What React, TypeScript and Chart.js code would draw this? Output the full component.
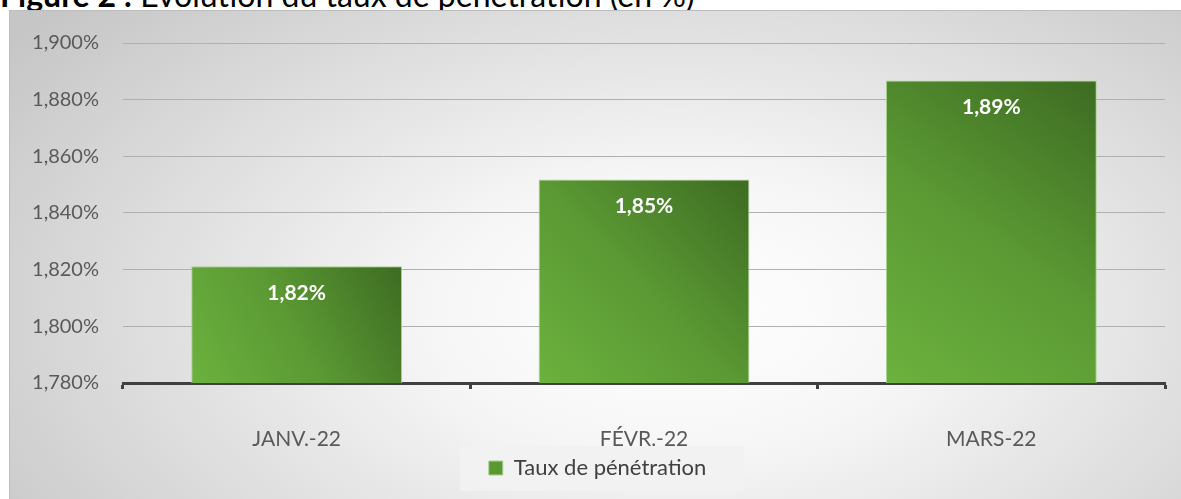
import React, { useEffect, useRef } from "react";
import { Chart, registerables } from "chart.js";

Chart.register(...registerables);

const categories = ["JANV.-22", "FÉVR.-22", "MARS-22"];
const seriesLabel = "Taux de pénétration";
const values = [1.8212, 1.8518, 1.8868];
const yMin = 1.78;
const yMax = 1.9;
const yStep = 0.02;

const FONT = "Lato, 'Open Sans', sans-serif";
const BAR_PCT = 0.607;

const barFill = (c: any) => {
  const chart = c.chart;
  const xs = chart.scales && chart.scales.x;
  const ys = chart.scales && chart.scales.y;
  if (!chart.chartArea || !xs || !ys || c.dataIndex === undefined) return "#5a9833";
  const i = c.dataIndex;
  const cx = xs.getPixelForValue(i);
  const w = (xs.width / categories.length) * BAR_PCT;
  const top = ys.getPixelForValue(values[i]);
  const base = ys.getPixelForValue(yMin);
  if (![cx, w, top, base].every((v) => Number.isFinite(v))) return "#5a9833";
  const g = chart.ctx.createLinearGradient(cx - w / 2, base, cx + w / 2, top);
  g.addColorStop(0, "#6cb23e");
  g.addColorStop(0.5, "#5a9833");
  g.addColorStop(1, "#3d6b22");
  return g;
};

const dataLabelPlugin = {
  id: "dataLabels",
  afterDatasetsDraw(chart: any) {
    const ctx = chart.ctx;
    const meta = chart.getDatasetMeta(0);
    ctx.save();
    ctx.fillStyle = "#ffffff";
    ctx.font = `bold 21px ${FONT}`;
    ctx.textAlign = "center";
    ctx.textBaseline = "middle";
    meta.data.forEach((el: any, i: number) => {
      const v = chart.data.datasets[0].data[i] as number;
      ctx.fillText(v.toFixed(2).replace(".", ",") + "%", el.x, el.y + 27);
    });
    ctx.restore();
  },
};

const LEGEND_SHIFT = 10;

const legendBgPlugin = {
  id: "legendBg",
  afterLayout(chart: any) {
    const lg = chart.legend;
    if (!lg) return;
    lg.left += LEGEND_SHIFT;
    lg.right += LEGEND_SHIFT;
    (lg.legendHitBoxes || []).forEach((h: any) => (h.left += LEGEND_SHIFT));
  },
  beforeDraw(chart: any) {
    const lg = chart.legend;
    if (!lg || !lg.legendHitBoxes || !lg.legendHitBoxes.length) return;
    const hb = lg.legendHitBoxes[0];
    const ctx = chart.ctx;
    const cy = hb.top + hb.height / 2;
    ctx.save();
    ctx.fillStyle = "rgba(242,242,242,0.9)";
    ctx.fillRect(hb.left - 29, cy - 22, hb.width + 67, 45);
    ctx.restore();
  },
};

export default function App() {
  const ref = useRef<HTMLCanvasElement | null>(null);
  useEffect(() => {
    if (!ref.current) return;
    const chart = new Chart(ref.current, {
      type: "bar",
      data: {
        labels: categories,
        datasets: [
          {
            label: seriesLabel,
            data: values,
            backgroundColor: barFill,
            borderColor: "#a9d18e",
            borderWidth: 1,
            categoryPercentage: 1,
            barPercentage: BAR_PCT,
          },
        ],
      },
      plugins: [legendBgPlugin, dataLabelPlugin],
      options: {
        responsive: false,
        animation: false,
        layout: { padding: { left: 0, right: 16, top: 32, bottom: 10 } },
        plugins: {
          tooltip: { enabled: false },
          legend: {
            position: "bottom",
            labels: {
              color: "#404040",
              font: { family: FONT, size: 22 },
              boxWidth: 14,
              boxHeight: 14,
              padding: 8,
              generateLabels: () => [
                {
                  text: seriesLabel,
                  fillStyle: "#5a9833",
                  strokeStyle: "#a9d18e",
                  lineWidth: 1,
                  datasetIndex: 0,
                  hidden: false,
                  fontColor: "#404040",
                },
              ],
            },
          },
        },
        scales: {
          x: {
            offset: true,
            grid: {
              offset: true,
              drawOnChartArea: false,
              drawTicks: true,
              tickLength: 6,
              tickWidth: 3,
              tickColor: "#404040",
            },
            border: { display: true, color: "#404040", width: 3 },
            ticks: {
              color: "#595959",
              font: { family: FONT, size: 21 },
              padding: 38,
            },
            afterFit: (s: any) => {
              s.height = 66;
            },
          },
          y: {
            min: yMin,
            max: yMax,
            grid: { color: "#b0b0b0", lineWidth: 1, drawTicks: false },
            border: { display: false },
            ticks: {
              stepSize: yStep,
              color: "#595959",
              font: { family: FONT, size: 20 },
              padding: 24,
              callback: (v: any) => Number(v).toFixed(3).replace(".", ",") + "%",
            },
            afterFit: (s: any) => {
              s.width = 113;
              s.paddingTop = 0;
              s.paddingBottom = 0;
            },
          },
        },
      },
    } as any);
    return () => chart.destroy();
  }, []);

  return (
    <div
      style={{
        position: "fixed",
        left: 0,
        top: 0,
        width: 1181,
        height: 499,
        overflow: "hidden",
        background: "#ffffff",
      }}
    >
      <div
        style={{
          position: "absolute",
          left: 0,
          top: -23,
          fontFamily: FONT,
          fontSize: 32,
          lineHeight: "36px",
          color: "#000",
          whiteSpace: "nowrap",
        }}
      >
        <b>Figure 2 :</b> Evolution du taux de pénétration (en %)
      </div>
      <div
        style={{
          position: "absolute",
          left: 9,
          top: 10,
          width: 1172,
          height: 489,
          borderTop: "1px solid #bdbdbd",
          borderLeft: "1px solid #bdbdbd",
          boxSizing: "border-box",
          background:
            "radial-gradient(ellipse 70% 95% at 57% 62%, #ffffff 0%, #f6f6f6 30%, #dedede 65%, #c6c6c6 100%)",
        }}
      >
        <canvas ref={ref} width={1171} height={488} style={{ display: "block" }} />
      </div>
    </div>
  );
}
